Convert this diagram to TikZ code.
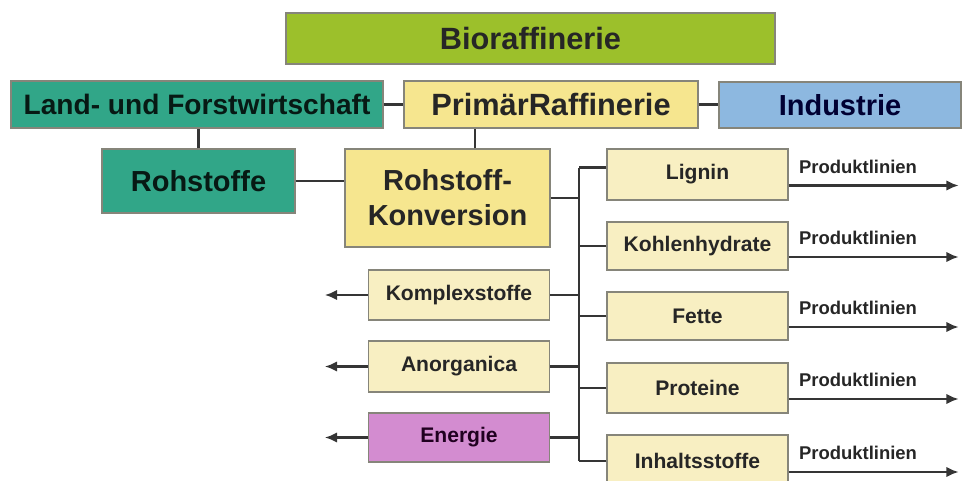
\documentclass[tikz,border=0pt]{standalone}
\usepackage{fontspec}
\setmainfont{Liberation Sans}
\usepackage{tikz}
\usetikzlibrary{arrows.meta}

\definecolor{biogreen}{HTML}{9CC02B}
\definecolor{forstteal}{HTML}{31A688}
\definecolor{primyellow}{HTML}{F6E68F}
\definecolor{paleyellow}{HTML}{F8EFC2}
\definecolor{indblue}{HTML}{8DB8E0}
\definecolor{energiepink}{HTML}{D38CD0}
\definecolor{rimgray}{HTML}{86857A}
\definecolor{linkgray}{HTML}{353535}
\definecolor{darktext}{HTML}{262626}

\begin{document}
\begin{tikzpicture}[
		box/.style={draw=rimgray, line width=0.8pt, text=darktext, font=\bfseries, align=center, inner sep=0pt},
		bigbox/.style={box, font=\bfseries\fontsize{16.5}{20}\selectfont},
		smallbox/.style={box, fill=paleyellow, minimum width=3.62cm, font=\bfseries\fontsize{12}{14}\selectfont},
		link/.style={draw=linkgray, line width=1.6pt},
		>={Latex[length=7pt,width=6pt]}
	]
		\useasboundingbox (0,0) rectangle (19.24,-9.6);
		
		\node[bigbox, fill=biogreen, minimum width=9.78cm, minimum height=1.02cm, font=\bfseries\fontsize{17.5}{20}\selectfont] (bio) at (10.61,-0.77) {Bioraffinerie};
		\node[bigbox, fill=forstteal, minimum width=7.44cm, minimum height=0.94cm, text=black!85!forstteal, font=\bfseries\fontsize{16}{20}\selectfont] (land) at (3.94,-2.09) {Land- und Forstwirtschaft};
		\node[bigbox, fill=primyellow, minimum width=5.88cm, minimum height=0.94cm, font=\bfseries\fontsize{17.5}{20}\selectfont] (prim) at (11.02,-2.09) {PrimärRaffinerie};
		\node[bigbox, fill=indblue, minimum width=4.84cm, minimum height=0.92cm, text=black!80!blue] (ind) at (16.8,-2.1) {Industrie};
		\node[bigbox, fill=forstteal, minimum width=3.86cm, minimum height=1.28cm, text=black!85!forstteal] (roh) at (3.97,-3.62) {Rohstoffe};
		\node[bigbox, fill=primyellow, minimum width=4.1cm, minimum height=1.96cm] (konv) at (8.95,-3.96) {Rohstoff-\\Konversion};
		
		\node[smallbox, minimum height=1.02cm] (lig) at (13.95,-3.49) {Lignin};
		\node[smallbox, minimum height=0.96cm] (kohl) at (13.95,-4.92) {Kohlenhydrate};
		\node[smallbox, minimum height=0.96cm] (fett) at (13.95,-6.32) {Fette};
		\node[smallbox, minimum height=1.0cm] (prot) at (13.95,-7.76) {Proteine};
		\node[smallbox, minimum height=1.04cm] (inh) at (13.95,-9.22) {Inhaltsstoffe};
		
		\node[smallbox, minimum height=1.0cm] (kompl) at (9.18,-5.9) {Komplexstoffe};
		\node[smallbox, minimum height=1.02cm] (anorg) at (9.18,-7.33) {Anorganica};
		\node[smallbox, fill=energiepink, minimum height=0.98cm, text=black!75!violet] (ener) at (9.18,-8.75) {Energie};
		
		\coordinate (bus) at (11.58,0);
		
		\path[link]
		(land) -- (prim)
		(prim.east) -- (prim.east -| ind.west)
		(roh.north) -- (roh.north |- land.south)
		([xshift=0.55cm]konv.north) -- ([xshift=0.55cm]konv.north |- prim.south)
		(roh.east) -- (roh.east -| konv.west)
		(konv.east) -- (konv.east -| bus)
		([yshift=0.14cm]bus |- lig.west) -- (bus |- inh.west)
		;
		\path[link] ([yshift=0.14cm]lig.west) -- ([yshift=0.14cm]lig.west -| bus);
		\foreach \n in {kohl,fett,prot,inh}
		\path[link] (\n.west) -- (\n.west -| bus);
		\foreach \n in {kompl,anorg,ener}{
			\path[link] (\n.east) -- (\n.east -| bus);
			\path[link,->] (\n.west) -- +(-0.86,0);
		}
		\foreach \n in {lig,kohl,fett,prot,inh}
		\path[link,->] ([yshift=-0.22cm]\n.east) -- +(3.4,0)
		node[pos=0, anchor=base west, inner sep=0pt, xshift=0.18cm, yshift=0.25cm, text=darktext, font=\bfseries\fontsize{10.5}{12}\selectfont] {Produktlinien};
	\end{tikzpicture}
\end{document}
